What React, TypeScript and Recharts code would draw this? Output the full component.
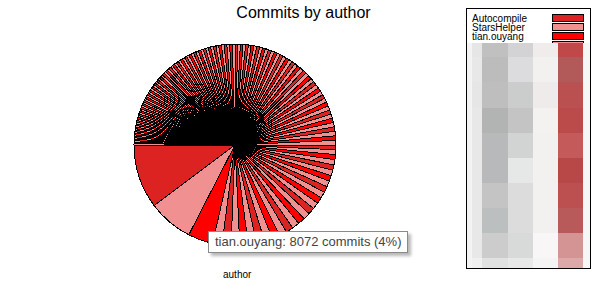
import { PieChart, Pie, Cell } from 'recharts';

const namedAuthors = ['Autocompile', 'StarsHelper', 'tian.ouyang'];

const commits = [
  20660, 14560, 8072,
  3031, 2907, 2812, 2739, 2695, 2627, 2581, 2514, 2470, 2402,
  2355, 2291, 2248, 2180, 2131, 2069, 2022, 1957, 1911, 1843,
  1790, 1741, 1676, 1629, 1561, 1517,
  1484, 1466, 1452, 1433, 1420, 1402, 1389, 1371, 1357, 1340,
  1326, 1309, 1295, 1278, 1263, 1247, 1232, 1216, 1200, 1185,
  1169, 1154, 1138, 1122, 1107, 1091, 1076, 1060, 1045, 1029,
  1013, 998, 982, 967, 951, 935, 920, 904, 889, 873,
  858, 842, 827, 812,
  905, 898, 892, 886, 880, 873, 867, 861, 855, 849,
  842, 836, 830, 824, 817, 811, 805, 799, 793, 786,
  780, 774, 768, 761, 755, 749, 743, 737, 730, 724,
  718, 712, 705, 699, 693, 687, 681, 674, 668, 662,
  656, 649, 643, 637, 631, 625, 618, 612, 606, 600,
  593, 587, 581, 575, 569, 562, 556, 550, 544, 537,
  531, 525, 519, 513, 506, 500, 494, 488, 481, 475,
  469, 463, 457, 450, 444,
];

const palette = ['#dd2222', '#f09090', '#ff0000', '#f09090'];

// blurred part of the legend box
const mosaicRows = [
  ['#e6e6e6', '#c0c0c0', '#d3d3d5', '#f0ecec', '#c04848'],
  ['#e8e8e8', '#bcbcbc', '#dcdcdf', '#f3f0f0', '#b25a5a'],
  ['#e6e6e6', '#bebebe', '#cbcdcd', '#efebeb', '#bb5050'],
  ['#e8e8e8', '#b2b4b4', '#c4c4c4', '#f4f1f1', '#bb4a4a'],
  ['#e8e8e8', '#b8b9bb', '#d2d4d4', '#f3f0f0', '#c45a5a'],
  ['#e8e8e8', '#b8b9bb', '#e6e8e8', '#f3f0f0', '#b84848'],
  ['#e8e8e8', '#c4c4c4', '#dcdcdc', '#f3f0f0', '#bc5050'],
  ['#e8e8e8', '#bcbfbf', '#dcdcdc', '#f3f0f0', '#b85a5a'],
  ['#e8e8e8', '#cccccc', '#d8dada', '#f8f6f6', '#d49494'],
  ['#f0f0f0', '#e0e2e2', '#e8e8e8', '#f4f4f4', '#dca8a8'],
];
const mosaicRowH = [14, 25, 26, 25, 25, 25, 25, 25, 25, 11];
const mosaicColW = [10, 26, 25, 25, 25];

const data = commits.map((c, i) => ({ name: namedAuthors[i] ?? `author ${i + 1}`, commits: c }));
const total = commits.reduce((a, b) => a + b, 0);
const hovered = data[2];

export default function App() {
  return (
    <div style={{ position: 'absolute', left: 0, top: 0, width: 607, height: 290, background: '#fff', fontFamily: 'Arial, "Liberation Sans", sans-serif' }}>
      <div style={{ position: 'absolute', left: 0, width: 607, top: 4, textAlign: 'center', fontSize: 16, color: '#000' }}>
        Commits by author
      </div>
      <PieChart width={607} height={290} style={{ position: 'absolute', left: 0, top: 0 }}>
        <Pie
          data={data}
          dataKey="commits"
          nameKey="name"
          cx={230}
          cy={140}
          outerRadius={101}
          startAngle={180}
          endAngle={540}
          stroke="#000"
          strokeWidth={1}
          isAnimationActive={false}
        >
          {data.map((d, i) => (
            <Cell key={d.name} fill={palette[i % palette.length]} style={{ shapeRendering: 'crispEdges' }} />
          ))}
        </Pie>
      </PieChart>
      <div style={{ position: 'absolute', left: 223, top: 269, fontSize: 10, color: '#000' }}>author</div>
      <div
        style={{
          position: 'absolute', left: 208, top: 231, width: 192, height: 20,
          border: '1px solid #8a8a8a', background: '#fff', boxShadow: '3px 3px 3px #b8b8b8',
          fontSize: 13, color: '#444', lineHeight: '20px', paddingLeft: 6, boxSizing: 'content-box',
          fontFamily: '"Liberation Sans", Arial, sans-serif', whiteSpace: 'nowrap',
        }}
      >
        {hovered.name}: {hovered.commits} commits ({Math.round((hovered.commits / total) * 100)}%)
      </div>
      <div style={{ position: 'absolute', left: 466, top: 8, width: 123, height: 259, border: '1px solid #000', background: '#fff', overflow: 'hidden' }}>
        {data.slice(0, 4).map((d, i) => (
          <div key={d.name} style={{ position: 'absolute', left: 5, top: 5 + i * 9, width: 115, height: 9 }}>
            {i < 3 && (
              <span style={{ position: 'absolute', left: 0, top: 0, fontSize: 10, lineHeight: '9px', height: 9, color: '#000' }}>{d.name}</span>
            )}
            <span style={{ position: 'absolute', left: 80, top: 0, width: 30, height: 6, border: '1px solid #000', background: palette[i % palette.length] }} />
          </div>
        ))}
        <div style={{ position: 'absolute', left: 0, top: 34, width: 123 }}>
          {mosaicRows.map((row, r) => (
            <div key={r} style={{ display: 'flex', height: mosaicRowH[r] }}>
              <div style={{ width: 5, background: '#f4f4f4' }} />
              {row.map((c, k) => (
                <div key={k} style={{ width: mosaicColW[k], background: c }} />
              ))}
              <div style={{ flex: 1, background: '#f6f6f6' }} />
            </div>
          ))}
        </div>
      </div>
    </div>
  );
}
